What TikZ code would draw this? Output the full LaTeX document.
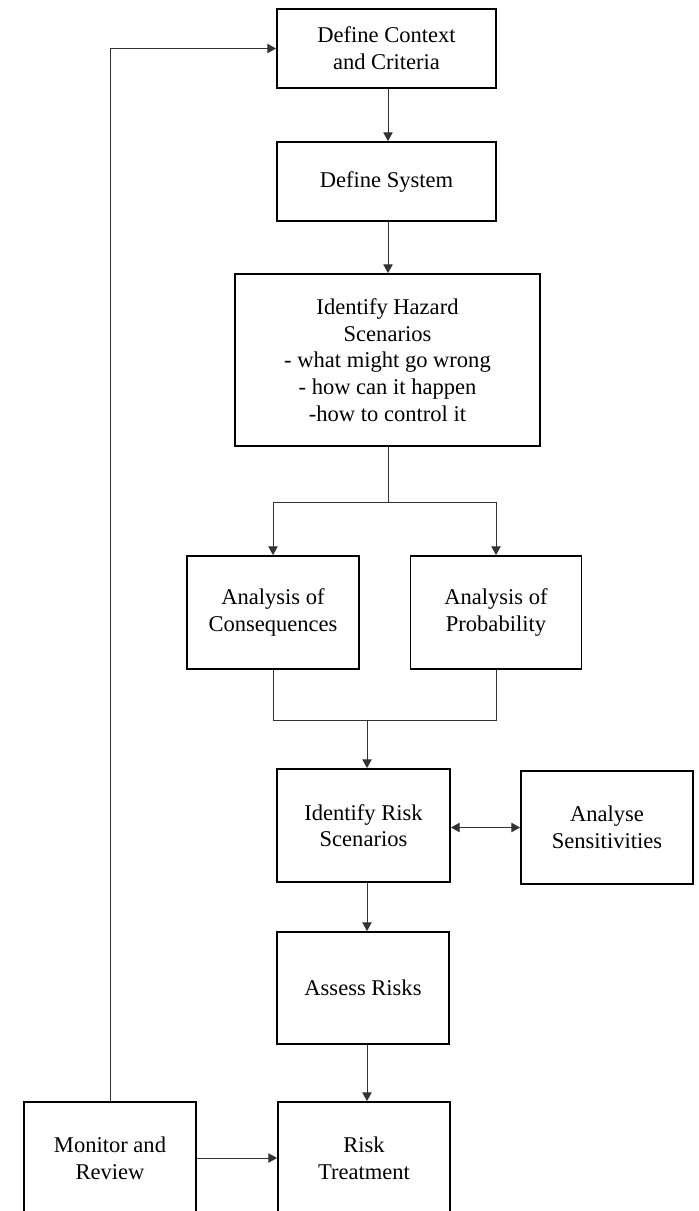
\documentclass[tikz,border=0pt]{standalone}
\usepackage{fontspec}
\setmainfont{Liberation Serif}
\usetikzlibrary{positioning,arrows.meta}

\begin{document}
\begin{tikzpicture}[x=0.75pt,y=-0.75pt,
		box/.style={draw,line width=1.4pt,align=center,inner sep=0pt,font=\fontsize{16.9}{20}\selectfont},
		wh/.style 2 args={minimum width=#1*0.75pt,minimum height=#2*0.75pt},
		link/.style={black!80,line width=0.7pt},
		arr/.style={link,-{Triangle[length=6.5pt,width=7pt]}},
		arrs/.style={link,{Triangle[length=6.5pt,width=7pt]}-{Triangle[length=6.5pt,width=7pt]}}]
	\useasboundingbox (0,0) rectangle (699,1211);
	\clip (0,0) rectangle (699,1211);
	
	% main chain
	\node[box,wh={219}{79}] (ctx) at (386.5,48.5) {Define Context\\and Criteria};
	\node[box,wh={219}{79}] (sys) at (386.5,181.5) {Define System};
	\node[box,wh={305}{172}] (haz) at (387.5,360) {Identify Hazard\\Scenarios\\- what might go wrong\\- how can it happen\\-how to control it};
	\node[box,wh={172}{113}] (cons) at (273,612.5) {Analysis of\\Consequences};
	\node[box,wh={171}{113}] (prob) at (496,612.5) {Analysis of\\Probability};
	\node[box,wh={173}{113}] (risk) at (363.5,825.5) {Identify Risk\\Scenarios};
	\node[box,wh={172}{113}] (sens) at (607,827.5) {Analyse\\Sensitivities};
	\node[box,wh={172}{112}] (assess) at (363,988) {Assess Risks};
	\node[box,wh={172}{112}] (treat) at (364,1158) {Risk\\Treatment};
	\node[box,wh={172}{112}] (mon) at (110,1158) {Monitor and\\Review};
	
	\coordinate (split) at (388,502);
	\coordinate (join) at (367,720);
	
	\draw[arr] (ctx.south -| split) -- (split |- sys.north);
	\draw[arr] (sys.south -| split) -- (split |- haz.north);
	\draw[link] (haz.south -| split) -- (split);
	\draw[arr] (split) -| (cons.north);
	\draw[arr] (split) -| (prob.north);
	\draw[link] (cons.south) |- (join) -| (prob.south);
	\draw[arr] (join) -- (join |- risk.north);
	\draw[arrs] (risk.east |- sens.west) -- (sens.west);
	\draw[arr] (risk.south -| join) -- (join |- assess.north);
	\draw[arr] (assess.south -| join) -- (join |- treat.north);
	\draw[arr] (mon.east |- treat.west) -- (treat.west);
	\draw[arr] (mon.north) |- (ctx.west);
\end{tikzpicture}
\end{document}
